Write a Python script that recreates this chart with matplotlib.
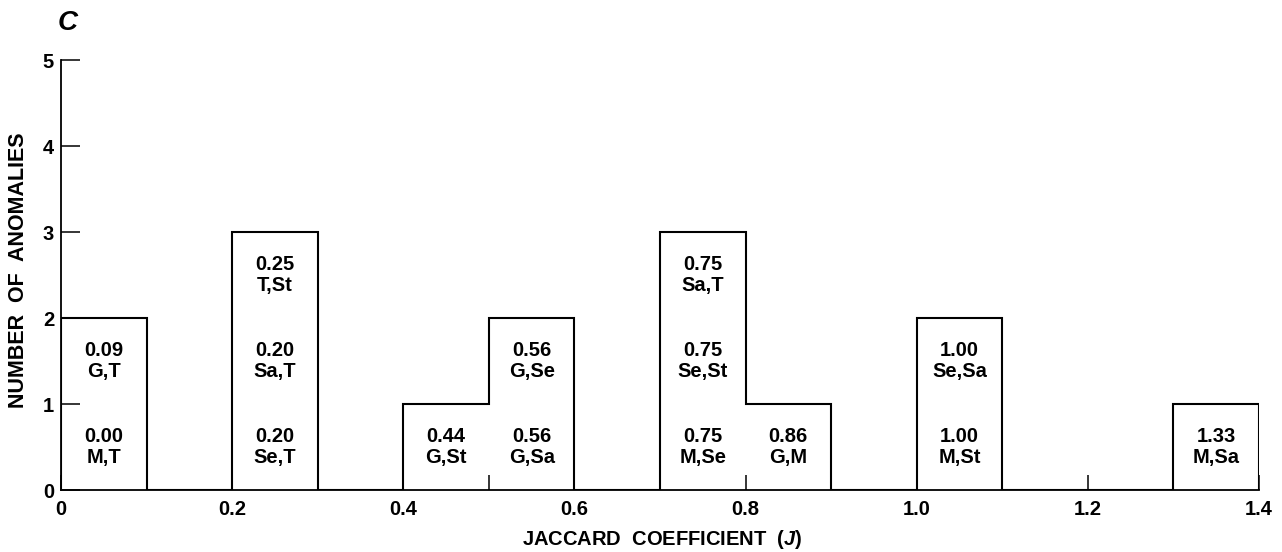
import numpy as np
from matplotlib import pyplot as plt

plt.rcParams['font.family'] = ['Liberation Sans', 'DejaVu Sans']
plt.rcParams['font.weight'] = 'bold'
plt.rcParams['axes.labelweight'] = 'bold'
plt.rcParams['mathtext.fontset'] = 'custom'
plt.rcParams['mathtext.rm'] = 'Liberation Sans:bold'
plt.rcParams['mathtext.it'] = 'Liberation Sans:italic:bold'

# Jaccard coefficient of each pair, listed bottom-to-top inside its bin
jaccard = [0.00, 0.09, 0.20, 0.20, 0.25, 0.44, 0.56, 0.56,
           0.75, 0.75, 0.75, 0.86, 1.00, 1.00, 1.33]
pairs = ["M,T", "G,T", "Se,T", "Sa,T", "T,St", "G,St", "G,Sa", "G,Se",
         "M,Se", "Se,St", "Sa,T", "G,M", "M,St", "Se,Sa", "M,Sa"]

edges = np.round(np.linspace(0, 1.4, 15), 1)
x_ticks = [0, 0.2, 0.4, 0.6, 0.8, 1.0, 1.2, 1.4]
x_tick_labels = ["0", "0.2", "0.4", "0.6", "0.8", "1.0", "1.2", "1.4"]
y_ticks = [0, 1, 2, 3, 4, 5]

counts, _ = np.histogram(jaccard, bins=edges)

fig = plt.figure(figsize=(12.82, 5.52), dpi=100)
ax = fig.add_axes([61 / 1282, 1 - 490 / 552, 1198 / 1282, 430 / 552])

ax.stairs(counts, edges, color='black', lw=1.5, baseline=0)

# label each stacked unit with its coefficient and pair
stack = {}
for j, p in zip(jaccard, pairs):
    b = np.searchsorted(edges, j, side='right') - 1
    level = stack.get(b, 0)
    stack[b] = level + 1
    xc = (edges[b] + edges[b + 1]) / 2
    ax.text(xc, level + 0.5, f"{j:.2f}\n{p}", ha='center', va='center',
            fontsize=14.5, linespacing=1.1)

ax.set_xlim(0, 1.4)
ax.set_ylim(0, 5)
ax.spines['top'].set_visible(False)
ax.spines['right'].set_visible(False)
for s in ['left', 'bottom']:
    ax.spines[s].set_linewidth(1.3)

ax.set_xticks(x_ticks)
ax.set_xticklabels(x_tick_labels)
ax.set_xticks(edges, minor=True)
ax.set_yticks(y_ticks)
ax.tick_params(axis='x', which='both', direction='in', length=11, width=1.1,
               labelsize=14.5, pad=7)
ax.tick_params(axis='y', direction='in', length=14, width=1.1,
               labelsize=14.5, pad=5)

ax.set_xlabel(r"JACCARD  COEFFICIENT  ($\it{J}$)", fontsize=14.5,
              fontweight='bold', va='center')
ax.xaxis.set_label_coords(0.502, (490 - 539.5) / 430)
ax.set_ylabel("NUMBER  OF  ANOMALIES", fontsize=15.5, fontweight='bold',
              va='center')
ax.yaxis.set_label_coords((18.5 - 61) / 1198, (490 - 270) / 430)

fig.text(68 / 1282, 1 - 23 / 552, "C", fontsize=20, style='italic',
         ha='center', va='center')

fig.savefig("out.png", dpi=100)
